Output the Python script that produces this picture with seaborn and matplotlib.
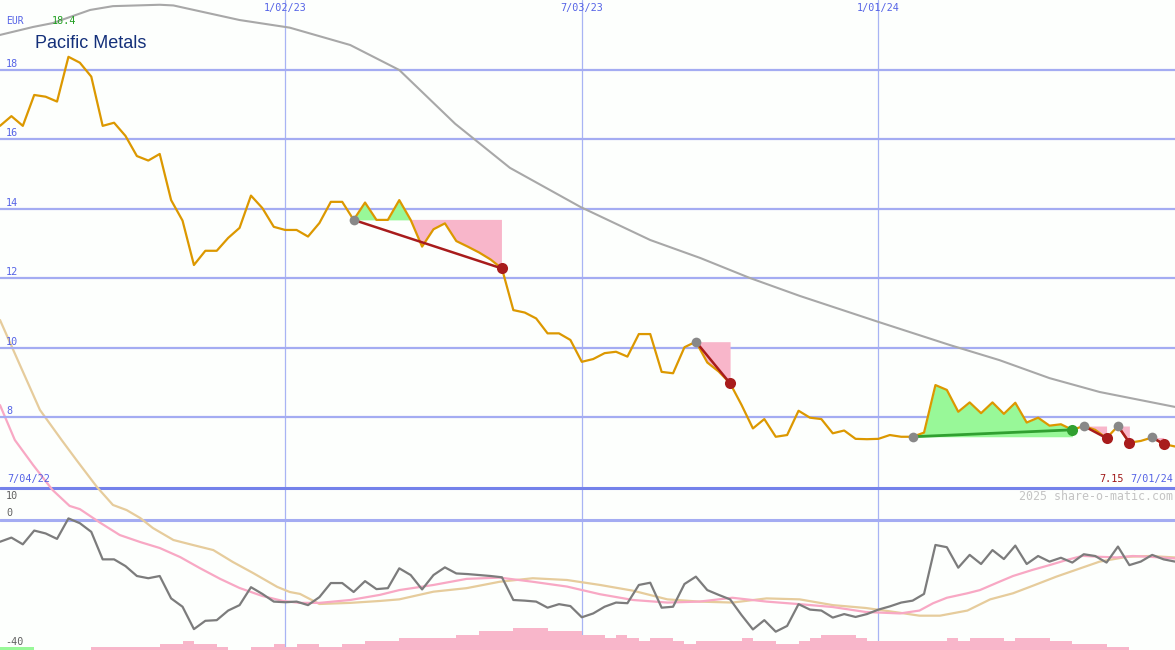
import numpy as np
import matplotlib
matplotlib.use("Agg")
import matplotlib.pyplot as plt
import seaborn as sns

# weekly close in EUR, 104 weeks (11 Jul 2022 .. 1 Jul 2024)
price = [16.39, 16.67, 16.39, 17.28, 17.23, 17.09, 18.38, 18.21, 17.81, 16.39,
         16.48, 16.10, 15.52, 15.39, 15.58, 14.25, 13.66, 12.38, 12.79, 12.79,
         13.16, 13.45, 14.38, 14.02, 13.48, 13.39, 13.39, 13.20, 13.59, 14.20,
         14.20, 13.68, 14.18, 13.68, 13.68, 14.25, 13.68, 12.91, 13.41, 13.58,
         13.07, 12.91, 12.74, 12.54, 12.28, 11.08, 11.01, 10.84, 10.41, 10.41,
         10.22, 9.59, 9.67, 9.84, 9.88, 9.74, 10.39, 10.39, 9.30, 9.26,
         10.01, 10.17, 9.57, 9.31, 8.97, 8.35, 7.67, 7.94, 7.43, 7.48,
         8.18, 7.98, 7.94, 7.53, 7.61, 7.37, 7.36, 7.37, 7.48, 7.43,
         7.43, 7.55, 8.92, 8.78, 8.15, 8.42, 8.11, 8.42, 8.09, 8.41,
         7.84, 7.98, 7.75, 7.79, 7.63, 7.74, 7.63, 7.39, 7.74, 7.26,
         7.31, 7.41, 7.22, 7.15]
weeks = np.arange(len(price))

# long moving average, read at a few weeks
ma_weeks = [0, 2.9, 4.6, 7.9, 9.9, 14, 15.2, 21, 25.4, 30.7, 35, 39.9, 44.7,
            50.9, 57, 61.4, 65.7, 70.1, 77, 83.3, 87.6, 92, 96.4, 103]
ma_vals = [19.01, 19.24, 19.35, 19.73, 19.84, 19.88, 19.86, 19.44, 19.22, 18.72,
           18.0, 16.45, 15.18, 14.05, 13.10, 12.58, 12.01, 11.49, 10.74, 10.07,
           9.64, 9.12, 8.72, 8.29]

# lower panel: momentum line (weekly) and two smoothed lines
momentum = [-6.8, -5.5, -7.6, -3.3, -4.2, -5.9, 0.5, -1.0, -3.7, -12.3,
            -12.3, -14.4, -17.5, -18.2, -17.5, -24.5, -27.1, -34.1, -31.5, -31.3,
            -28.3, -26.6, -21.0, -23.1, -25.5, -25.7, -25.5, -26.6, -24.1, -19.7,
            -19.7, -22.5, -19.1, -21.6, -21.3, -15.1, -17.2, -21.7, -17.2, -14.8,
            -16.7, -16.9, -17.2, -17.5, -17.9, -25.0, -25.2, -25.5, -27.4, -26.3,
            -26.9, -30.4, -29.2, -27.1, -25.8, -26.0, -20.3, -19.6, -27.4, -27.1,
            -20.0, -17.7, -21.9, -23.4, -24.8, -29.7, -34.2, -31.3, -34.9, -33.1,
            -26.3, -28.0, -28.3, -30.5, -29.4, -30.3, -29.4, -28.0, -27.0, -25.8,
            -25.2, -23.1, -7.8, -8.5, -14.9, -10.9, -13.75, -9.4, -12.2, -8.0,
            -13.75, -11.25, -13.0, -11.8, -13.3, -10.7, -11.25, -13.3, -8.3, -14.1,
            -13.0, -10.9, -12.3, -13.0]

pink_weeks = [0, 1.3, 2.9, 4.6, 6.1, 7, 8.8, 10.5, 12.3, 14, 15.8, 17.5, 19.3,
              21, 23, 24.8, 26.3, 28, 30.7, 33.3, 35, 38, 40.9, 43.8, 46.7,
              49.7, 52.6, 55.5, 58.5, 61.3, 64.2, 67.2, 70.1, 73, 75.9, 78.9,
              80.6, 81.8, 83, 84.8, 85.9, 87.6, 88.8, 90.5, 92, 93.5, 94.9,
              96.4, 97.9, 99.3, 100.8, 103]
pink_vals = [35.9, 25, 17.2, 9.4, 4.4, 3.4, -0.9, -4.7, -6.9, -8.75, -11.6, -15,
             -18.4, -21.25, -23.75, -25.3, -25.9, -25.9, -25, -23.4, -21.9, -20.3,
             -18.4, -18.0, -19.3, -20.8, -23.2, -25, -25.8, -25.5, -24.3, -25.5,
             -26.3, -27.2, -28.75, -29.2, -28.3, -26, -24.3, -22.9, -21.9, -19.3,
             -17.5, -15.6, -14.1, -12.5, -11.2, -11.5, -11.7, -11.25, -11.5, -12]

tan_weeks = [0, 1.75, 3.5, 5.4, 6.7, 8.5, 9.9, 11.1, 12.3, 13.4, 15.2, 16.9,
             18.7, 20.4, 22.2, 24.3, 25.4, 26.3, 28, 30.7, 33.3, 35, 38, 40.9,
             43.8, 46.7, 49.7, 52.6, 55.5, 58.5, 61.3, 64.2, 67.2, 70.1, 73,
             75.9, 78.9, 80.6, 82.4, 84.8, 86.8, 88.8, 90.5, 92.6, 94.7, 96.4,
             98.8, 100.8, 103]
tan_vals = [62.5, 48.4, 34.4, 25, 18.75, 10.3, 4.7, 3.1, 0.6, -2.5, -6.25, -7.8,
            -9.4, -13.1, -16.6, -20.9, -22.5, -23.1, -26.25, -25.9, -25.3, -24.8,
            -22.4, -21.3, -19.3, -18.2, -18.75, -20.3, -22.1, -24.8, -25.5, -25.8,
            -24.5, -24.8, -26.6, -27.5, -29, -29.9, -29.9, -28.3, -24.8, -22.9,
            -20.6, -17.7, -15.1, -13, -11.5, -11.25, -11.7]

# volume (relative), one bar per week
volume = [3, 3, 3, 0, 0, 0, 0, 0, 3, 3, 3, 3, 3, 3, 6, 6, 9, 6, 6, 3,
          0, 0, 3, 3, 6, 3, 6, 6, 3, 3, 6, 6, 9, 9, 9, 12, 12, 12, 12, 12,
          15, 15, 19, 19, 19, 22, 22, 22, 19, 19, 19, 15, 15, 12, 15, 12, 9, 12, 12, 9,
          6, 9, 9, 9, 9, 12, 9, 9, 6, 6, 9, 12, 15, 15, 15, 12, 9, 9, 9, 9,
          9, 9, 9, 12, 9, 12, 12, 12, 9, 12, 12, 12, 9, 9, 6, 6, 6, 3, 3, 0,
          0, 0, 0]

trade_entry = [31, 61, 80, 95, 98, 101]
trade_exit = [44, 64, 94, 97, 99, 102]

price_ticks = [8, 10, 12, 14, 16, 18]
date_weeks = [25, 51, 77]
date_labels = ["1/02/23", "7/03/23", "1/01/24"]

sns.set_style("white")
plt.rcParams["font.family"] = ["DejaVu Sans Mono"]

W, H = 1175, 650
bg = "#fdfffd"
fig = plt.figure(figsize=(11.75, 6.5), dpi=100, facecolor=bg)

# three overlaid axes: volume, oscillator, price
axv = fig.add_axes([0, 0, 1, 1])
axo = fig.add_axes([0, 0, 1, 1])
ax = fig.add_axes([0, 0, 1, 1])
for a in (axv, axo, ax):
    a.set_axis_off()
    a.patch.set_alpha(0)
axv.patch.set_facecolor(bg)
axv.patch.set_alpha(1)

# volume bars + vertical date lines
for w in date_weeks:
    axv.axvline(w, color="#a8b4f4", lw=0.9, zorder=1)
bar_colors = ["#98f898" if i < 3 else "#f8b6ca" for i in range(len(volume))]
axv.bar(np.arange(len(volume)), volume, width=1.0, align="edge",
        color=bar_colors, linewidth=0, zorder=2)
axv.set_xlim(0, 103)
axv.set_ylim(0, 650)

# oscillator
axo.axhline(10, color="#7482ea", lw=2.2, zorder=1)
axo.axhline(0, color="#a4acf2", lw=2.2, zorder=1)
sns.lineplot(x=tan_weeks, y=tan_vals, ax=axo, color="#e6cc9c", lw=1.6, zorder=2)
sns.lineplot(x=pink_weeks, y=pink_vals, ax=axo, color="#f8a8c4", lw=1.6, zorder=3)
sns.lineplot(x=weeks, y=momentum, ax=axo, color="#7c7c7c", lw=1.6, zorder=4)
axo.set_xlim(0, 103)
axo.set_ylim(-40.625, 162.5)
axo.set_axis_off()

# price panel
for t in price_ticks:
    ax.axhline(t, color="#a4acf2", lw=1.6, zorder=0)
sns.lineplot(x=ma_weeks, y=ma_vals, ax=ax, color="#a8a8a8", lw=1.5, zorder=2)

p = np.array(price)
for i0, i1 in zip(trade_entry, trade_exit):
    xs = weeks[i0:i1 + 1]
    ys = p[i0:i1 + 1]
    e = p[i0]
    ax.fill_between(xs, ys, e, where=ys >= e, interpolate=True,
                    color="#98f898", lw=0, zorder=1)
    ax.fill_between(xs, ys, e, where=ys <= e, interpolate=True,
                    color="#f8b6ca", lw=0, zorder=1)

sns.lineplot(x=weeks, y=price, ax=ax, color="#dc9800", lw=1.6, zorder=3)

for i0, i1 in zip(trade_entry, trade_exit):
    win = p[i1] > p[i0]
    c = "#30a030" if win else "#a81c1c"
    ax.plot([i0, i1], [p[i0], p[i1]], color=c, lw=2.0 if win else 1.8,
            zorder=4, solid_capstyle="round")
    ax.plot(i0, p[i0], "o", color="#888888", ms=7, mec="none", zorder=5)
    ax.plot(i1, p[i1], "o", color=c, ms=8, mec="none", zorder=5)

ax.set_xlim(0, 103)
ax.set_ylim(1.285, 20.017)
ax.set_axis_off()


def px_text(x, y, s, **kw):
    fig.text(x / W, 1 - y / H, s, va="center", **kw)


blue = "#5563e6"
px_text(6, 21, "EUR", color=blue, fontsize=7)
px_text(52, 21, "18.4", color="#22a022", fontsize=7.3)
px_text(35, 43, "Pacific Metals", color="#14307a", fontsize=13,
        family="Liberation Sans")
for t in price_ticks:
    y = 70 + (18 - t) * 34.7
    px_text(6, y - 6, str(t), color=blue, fontsize=7.3)
for w, lab in zip(date_weeks, date_labels):
    px_text(w * W / 103, 8, lab, color=blue, fontsize=7.3, ha="center")
px_text(7, 479, "7/04/22", color=blue, fontsize=7.3)
px_text(1124, 479, "7.15", color="#a01818", fontsize=7.3, ha="right")
px_text(1173, 479, "7/01/24", color=blue, fontsize=7.3, ha="right")
px_text(1173, 496.5, "2025 share-o-matic.com", color="#c4c4c4", fontsize=8.4,
        ha="right")
px_text(6, 496, "10", color="#606060", fontsize=7.3)
px_text(6, 513.5, "0", color="#606060", fontsize=7.3)
px_text(5, 642, "-40", color="#606060", fontsize=7.3)

fig.savefig("out.png", dpi=100, facecolor=bg)
